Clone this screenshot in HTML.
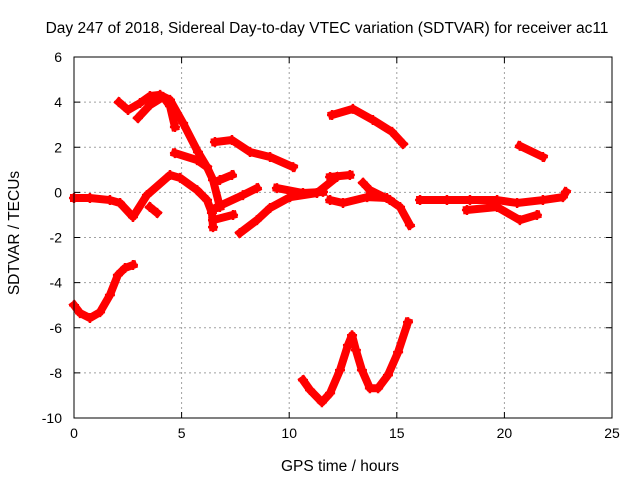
<!DOCTYPE html>
<html><head><meta charset="utf-8"><style>
body{margin:0;background:#fff;}
svg{display:block;font-family:"Liberation Sans",sans-serif;}
</style></head><body>
<svg id="c" width="640" height="480">
<text x="327" y="33" text-anchor="middle" font-size="15.5">Day 247 of 2018, Sidereal Day-to-day VTEC variation (SDTVAR) for receiver ac11</text>
<text x="340" y="471" text-anchor="middle" font-size="15.5">GPS time / hours</text>
<text transform="translate(19,233) rotate(-90)" text-anchor="middle" font-size="15.5">SDTVAR / TECUs</text>
<g id="grid"></g><g id="series"></g><g id="axes"></g>
</svg>
<script>
const xTicks=[0,5,10,15,20,25];
const yTicks=[-10,-8,-6,-4,-2,0,2,4,6];
const arcUpperA=[[2.09,4.0],[2.51,3.65],[3.07,3.96],[3.53,4.27],[4.0,4.32],[4.46,4.1],[5.07,3.07],[5.76,1.79],[6.18,1.12],[6.46,0.55],[6.78,-0.65]];
const arcUpperB=[[2.97,3.3],[3.53,3.87],[4.14,4.23],[4.46,3.83],[4.69,2.9]];
const arcMidA=[[4.69,1.74],[5.72,1.43],[6.18,1.12]];
const arcMidB=[[6.55,2.23],[7.34,2.32],[8.18,1.79],[9.11,1.57],[10.18,1.12]];
const arcUpperC=[[11.99,3.43],[12.96,3.7],[13.89,3.21],[14.78,2.68],[15.29,2.15]];
const arcUpperD=[[20.72,2.06],[21.79,1.57]];
const arcLowA=[[0,-5.0],[0.28,-5.35],[0.74,-5.57],[1.21,-5.31],[1.67,-4.55],[2.04,-3.66],[2.37,-3.35],[2.74,-3.22]];
const arcLowB=[[10.64,-8.32],[10.97,-8.76],[11.52,-9.3],[11.9,-8.9],[12.36,-7.88],[12.73,-6.77],[12.92,-6.33],[13.1,-6.99],[13.38,-7.88],[13.75,-8.68],[14.13,-8.68],[14.59,-8.1],[15.06,-7.08],[15.52,-5.75]];
const z1=[[0,-0.25],[0.74,-0.25],[1.67,-0.34],[2.14,-0.47],[2.74,-1.09],[3.39,-0.12],[4.46,0.77],[4.93,0.64],[5.72,0.1],[6.18,-0.34],[6.41,-0.91],[6.46,-1.54]];
const z2=[[3.53,-0.65],[3.86,-0.91]];
const z3=[[6.65,-0.65],[7.85,-0.12],[8.5,0.19]];
const z4=[[7.71,-1.8],[8.5,-1.23],[9.11,-0.69],[10.04,-0.21],[11.29,-0.03],[12.22,0.68]];
const z5=[[9.43,0.19],[10.64,-0.03],[11.57,0.02]];
const z6=[[6.78,0.55],[7.34,0.77]];
const z7=[[6.46,-1.23],[7.39,-1.0]];
const z8=[[11.9,-0.34],[12.5,-0.47],[13.62,-0.21],[14.54,-0.25],[15.15,-0.65],[15.61,-1.45]];
const z9=[[16.08,-0.34],[17.33,-0.34],[18.4,-0.34],[19.66,-0.34],[20.59,-0.47],[21.79,-0.34],[22.72,-0.21],[22.86,0.02]];
const z10=[[18.26,-0.78],[19.66,-0.65],[20.72,-1.23],[21.51,-1.0]];
const z11=[[13.43,0.42],[13.75,0.1],[14.68,-0.34]];
const z12=[[11.9,0.68],[12.82,0.77]];
const tracks=[arcUpperA,arcUpperB,arcMidA,arcMidB,arcUpperC,arcUpperD,arcLowA,arcLowB,z1,z2,z3,z4,z5,z6,z7,z8,z9,z10,z11,z12];

const L=74,R=612,T=57,B=418,xMin=0,xMax=25,yMin=-10,yMax=6;
const X=v=>L+(v-xMin)/(xMax-xMin)*(R-L);
const Y=v=>B-(v-yMin)/(yMax-yMin)*(B-T);
const NS='http://www.w3.org/2000/svg';
function mk(tag,attrs,parent){const e=document.createElementNS(NS,tag);for(const k in attrs)e.setAttribute(k,attrs[k]);parent.appendChild(e);return e;}
const grid=document.getElementById('grid'),axes=document.getElementById('axes'),ser=document.getElementById('series');
xTicks.forEach(t=>{
  if(t>xMin&&t<xMax){const g=mk('line',{x1:X(t),x2:X(t),y1:T,y2:B,stroke:'#a0a0a0','stroke-dasharray':'2,3'},grid);
  
  }
  const tk=mk('path',{d:`M${X(t)},${B}v-6M${X(t)},${T}v6`,stroke:'#000'},axes);
  
  
  const lb=mk('text',{x:X(t),y:B+20,'text-anchor':'middle','font-size':'14'},axes);lb.textContent=t;
  
  
});
yTicks.forEach(t=>{
  if(t>yMin&&t<yMax){const g=mk('line',{x1:L,x2:R,y1:Y(t),y2:Y(t),stroke:'#a0a0a0','stroke-dasharray':'2,3'},grid);
  
  }
  const tk=mk('path',{d:`M${L},${Y(t)}h6M${R},${Y(t)}h-6`,stroke:'#000'},axes);
  
  
  const lb=mk('text',{x:L-12,y:Y(t)+5,'text-anchor':'end','font-size':'14'},axes);lb.textContent=t;
  
  
});
const fr=mk('rect',{x:L,y:T,width:R-L,height:B-T,fill:'none',stroke:'#000'},axes);


tracks.forEach((tr,i)=>{
  const pl=mk('polyline',{points:tr.map(p=>X(p[0])+','+Y(p[1])).join(' '),fill:'none',stroke:'#ff0000','stroke-width':'8','stroke-linejoin':'round','stroke-linecap':'square'},ser);
  
  
  tr.forEach(p=>{
    const m=mk('path',{d:`M${X(p[0])-5},${Y(p[1])}h10M${X(p[0])},${Y(p[1])-5}v10`,stroke:'#ff0000','stroke-width':'2.5'},ser);
    
    
  });
});
</script>
</body></html>
